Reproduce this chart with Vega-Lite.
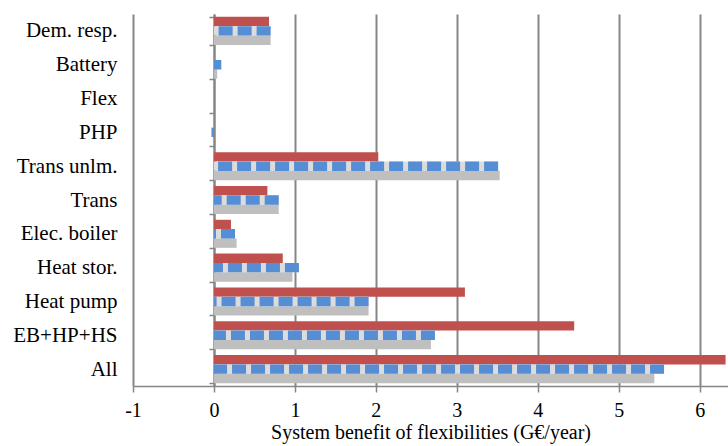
{
  "$schema": "https://vega.github.io/schema/vega-lite/v6.json",
  "width": 595,
  "height": 372,
  "autosize": "none",
  "padding": {"left": 133, "top": 14, "right": 0, "bottom": 60},
  "config": {
    "font": "Liberation Serif",
    "view": {"stroke": null}
  },
  "data": {
    "values": [
      {"cat": "Dem. resp.", "s": "s1", "v": 0.68},
      {"cat": "Dem. resp.", "s": "s2", "v": 0.70},
      {"cat": "Dem. resp.", "s": "s3", "v": 0.70},
      {"cat": "Battery", "s": "s1", "v": 0},
      {"cat": "Battery", "s": "s2", "v": 0.09},
      {"cat": "Battery", "s": "s3", "v": 0.04},
      {"cat": "Flex", "s": "s1", "v": 0},
      {"cat": "Flex", "s": "s2", "v": 0},
      {"cat": "Flex", "s": "s3", "v": 0},
      {"cat": "PHP", "s": "s1", "v": 0},
      {"cat": "PHP", "s": "s2", "v": -0.03},
      {"cat": "PHP", "s": "s3", "v": 0},
      {"cat": "Trans unlm.", "s": "s1", "v": 2.03},
      {"cat": "Trans unlm.", "s": "s2", "v": 3.51},
      {"cat": "Trans unlm.", "s": "s3", "v": 3.53},
      {"cat": "Trans", "s": "s1", "v": 0.66},
      {"cat": "Trans", "s": "s2", "v": 0.80},
      {"cat": "Trans", "s": "s3", "v": 0.80},
      {"cat": "Elec. boiler", "s": "s1", "v": 0.21},
      {"cat": "Elec. boiler", "s": "s2", "v": 0.26},
      {"cat": "Elec. boiler", "s": "s3", "v": 0.28},
      {"cat": "Heat stor.", "s": "s1", "v": 0.85},
      {"cat": "Heat stor.", "s": "s2", "v": 1.05},
      {"cat": "Heat stor.", "s": "s3", "v": 0.97},
      {"cat": "Heat pump", "s": "s1", "v": 3.10},
      {"cat": "Heat pump", "s": "s2", "v": 1.91},
      {"cat": "Heat pump", "s": "s3", "v": 1.91},
      {"cat": "EB+HP+HS", "s": "s1", "v": 4.45},
      {"cat": "EB+HP+HS", "s": "s2", "v": 2.73},
      {"cat": "EB+HP+HS", "s": "s3", "v": 2.68},
      {"cat": "All", "s": "s1", "v": 6.32},
      {"cat": "All", "s": "s2", "v": 5.56},
      {"cat": "All", "s": "s3", "v": 5.44}
    ]
  },
  "encoding": {
    "y": {
      "field": "cat", "type": "nominal", "sort": null,
      "scale": {"paddingInner": 0.17, "paddingOuter": 0.085},
      "axis": {
        "title": null, "offset": -81, "labelPadding": 92, "tickSize": 5,
        "tickBand": "extent", "domainColor": "#868686", "domainWidth": 2,
        "tickColor": "#868686", "tickWidth": 1.5, "labelFontSize": 21,
        "labelColor": "black", "grid": false, "labelAlign": "right"
      }
    },
    "yOffset": {
      "field": "s", "type": "nominal",
      "scale": {"domain": ["s1", "s2", "s3"], "paddingInner": 0, "paddingOuter": 0}
    },
    "x": {
      "field": "v", "type": "quantitative", "stack": null,
      "scale": {"domain": [-1, 6.35], "nice": false, "zero": false},
      "axis": {
        "values": [-1, 0, 1, 2, 3, 4, 5, 6],
        "labelExpr": "'' + datum.value",
        "grid": true, "gridColor": "#868686", "gridWidth": 2,
        "domainColor": "#868686", "domainWidth": 1.5,
        "tickColor": "#868686", "tickWidth": 1.5, "tickSize": 6,
        "labelFontSize": 20, "labelColor": "black", "labelPadding": 8,
        "labelFlush": false,
        "title": "System benefit of flexibilities (G€/year)",
        "titleFontSize": 20, "titleFontWeight": "normal", "titleColor": "black",
        "titlePadding": 2
      }
    }
  },
  "layer": [
    {
      "mark": {"type": "bar"},
      "encoding": {
        "color": {
          "field": "s", "type": "nominal",
          "scale": {"domain": ["s1", "s2", "s3"], "range": ["#c0504d", "#dcdcdc", "#bfbfbf"]},
          "legend": null
        }
      }
    },
    {
      "transform": [{"filter": "datum.s === 's2'"}],
      "mark": {"type": "rule", "color": "#558ed5", "strokeWidth": 9.4, "strokeDash": [14, 5], "strokeCap": "butt"},
      "encoding": {"x2": {"datum": 0}}
    }
  ]
}
